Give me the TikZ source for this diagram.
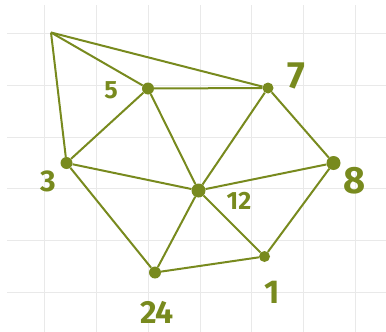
\documentclass[tikz,border=0pt]{standalone}
\usepackage{fontspec}
\setmainfont{Fira Sans}
\usepackage{tikz}
\usetikzlibrary{positioning}
\usepackage{xcolor}
\definecolor{olivegreen}{HTML}{788A1E}
\definecolor{gridgray}{HTML}{E9E9E9}

\begin{document}
\begin{tikzpicture}[x=1pt,y=-1pt,
    vertex/.style={circle,fill=olivegreen,inner sep=0pt,minimum size=#1},
    edge/.style={olivegreen,line width=2pt},
    numlbl/.style={color=olivegreen,font=\bfseries,inner sep=0pt}]
        \useasboundingbox(0,0)rectangle(386,332);
        % grid paper
        \foreach \x in {44.3,96.3,148,200,251.7,303.5,355.3}{
          \draw[gridgray,line width=0.9pt](\x,5)--(\x,332);}
        \foreach \y in {33.3,85.3,137,188.7,240.5,292.3}{
          \draw[gridgray,line width=0.9pt](7,\y)--(386,\y);}
        % vertices
        \coordinate(top)at(51,32.5);
        \foreach \n/\x/\y/\s in {v5/148/88.5/12pt, v7/268/88/11pt, v3/66.5/163/12pt,
            v12/198.5/190.5/14pt, v8/333.5/163/14pt, v24/155/272.5/12pt, v1/264.5/256.5/11pt}{
          \node[vertex=\s](\n)at(\x,\y){};}
        % edges
        \foreach \a/\b in {top/v5,top/v7,top/v3,v5/v7,v5/v3,v5/v12,v7/v12,v7/v8,
            v3/v12,v3/v24,v12/v8,v12/v24,v12/v1,v8/v1,v24/v1}{
          \draw[edge](\a)--(\b);}
        % labels
        \node[numlbl,font=\bfseries\fontsize{25}{25}\selectfont](l5)at(111,90){5};
        \node[numlbl,font=\bfseries\fontsize{38}{38}\selectfont](l7)at(296,76){7};
        \node[numlbl,font=\bfseries\fontsize{30}{30}\selectfont](l3)at(48,181){3};
        \node[numlbl,font=\bfseries\fontsize{38}{38}\selectfont](l8)at(355,181){8};
        \node[numlbl,font=\bfseries\fontsize{25}{25}\selectfont](l12)at(239,201){12};
        \node[numlbl,font=\bfseries\fontsize{32}{32}\selectfont](l24)at(157,312){24};
        \node[numlbl,font=\bfseries\fontsize{33}{33}\selectfont](l1)at(272,292){1};
      \end{tikzpicture}
\end{document}
